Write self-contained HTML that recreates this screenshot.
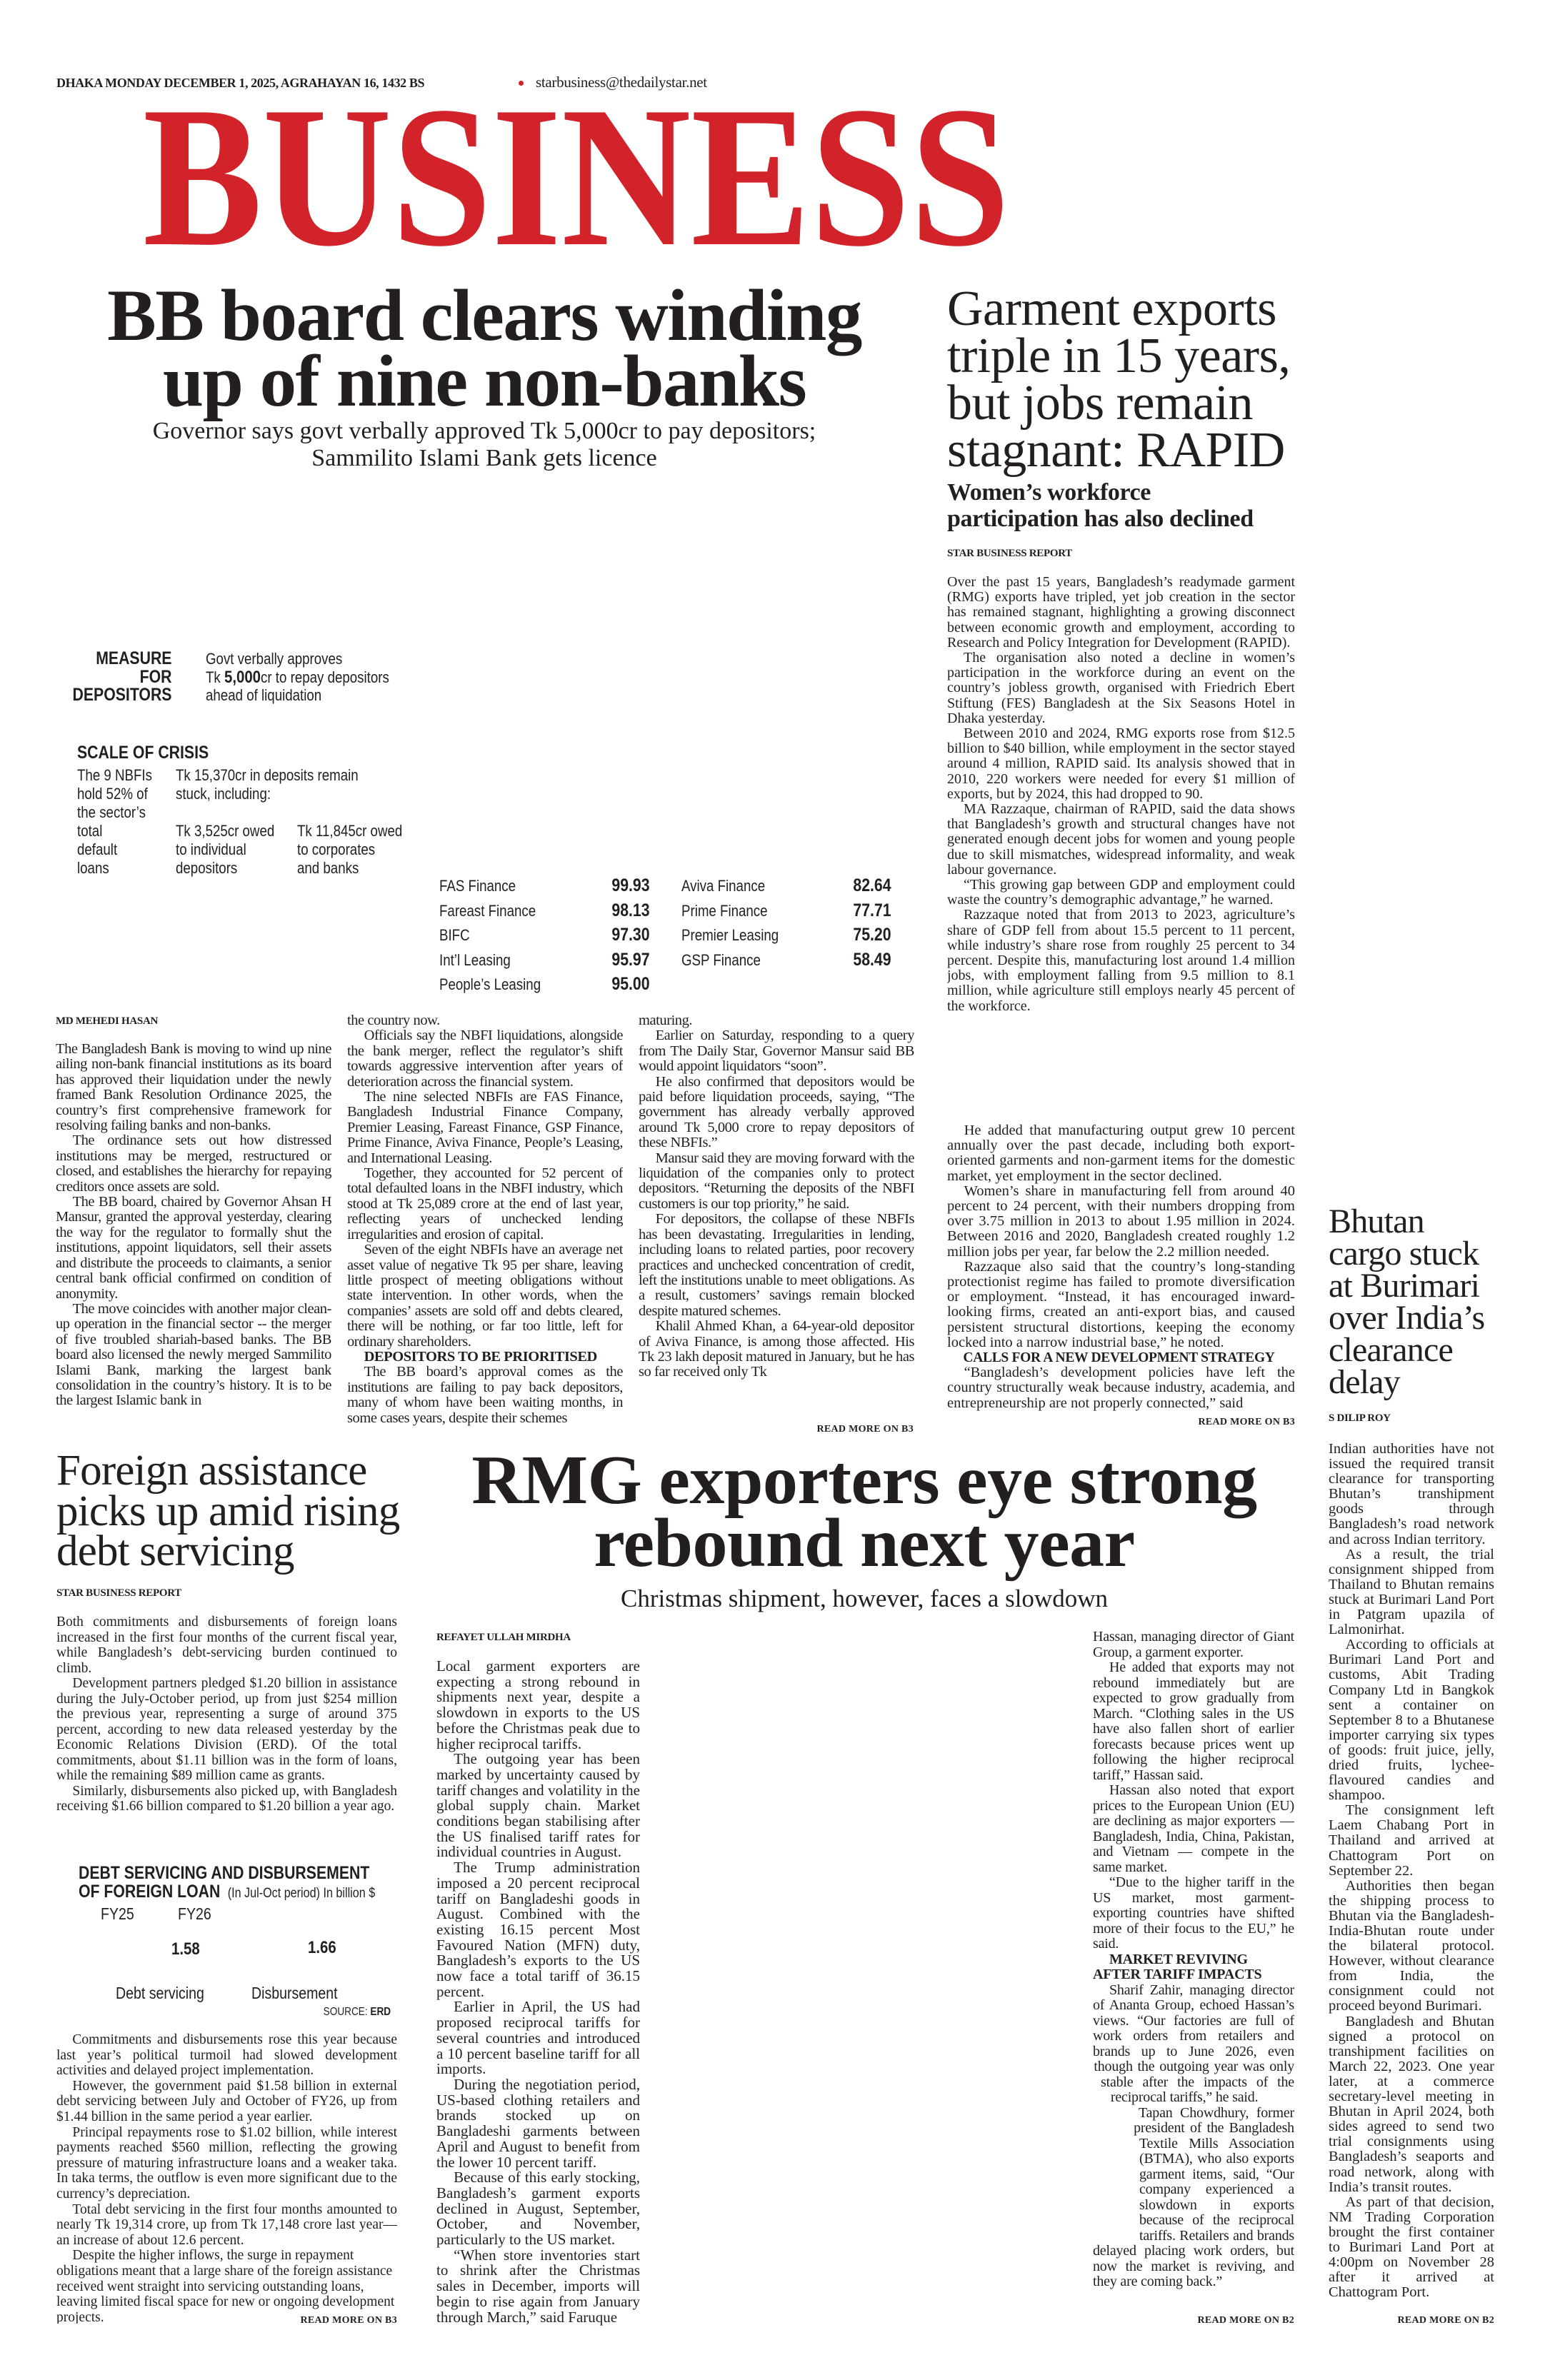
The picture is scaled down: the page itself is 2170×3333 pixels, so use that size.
<!DOCTYPE html>
<html><head><meta charset="utf-8">
<style>
*{margin:0;padding:0;box-sizing:border-box}
html,body{width:2170px;height:3333px;background:#fff;overflow:hidden}
body{position:relative;color:#231f20;font-family:"Liberation Serif",serif}
.a{position:absolute}
.body{text-align:justify;overflow:hidden;hyphens:auto}
.body p{text-indent:1.15em}
.body p.f{text-indent:0}
.sub{font-weight:bold;text-indent:1.15em}
.by{font-weight:bold;font-size:15px;line-height:20px;letter-spacing:-0.3px}
.rm{font-weight:bold;font-size:14px;line-height:18px;text-align:right;letter-spacing:0.3px;white-space:nowrap}
.s{font-family:"Liberation Sans",sans-serif;transform:scaleX(.85);transform-origin:left top;white-space:nowrap}
.sr{font-family:"Liberation Sans",sans-serif;transform:scaleX(.85);transform-origin:right top;white-space:nowrap;text-align:right}
.bbb{font-size:20.5px;line-height:21.4px;width:386px;letter-spacing:-0.45px}
</style></head><body>

<div class="a" style="left:79px;top:104px;font-size:18px;line-height:24px;font-weight:bold;letter-spacing:-0.4px;white-space:nowrap">DHAKA MONDAY DECEMBER 1, 2025, AGRAHAYAN 16, 1432 BS</div>
<div class="a" style="left:726px;top:113px;width:7px;height:7px;border-radius:50%;background:#d2232a"></div>
<div class="a" style="left:750px;top:103px;font-size:21px;line-height:24px;white-space:nowrap;letter-spacing:-0.3px">starbusiness@thedailystar.net</div>

<div class="a" style="left:200px;top:106px;font-size:282px;line-height:282px;font-weight:bold;color:#d2232a;white-space:nowrap;transform:scaleX(.89);transform-origin:left top">BUSINESS</div>

<div class="a" style="left:60px;top:396px;width:1236px;text-align:center;font-size:103px;line-height:92px;font-weight:bold;letter-spacing:-1.5px;white-space:nowrap">BB board clears winding<br>up of nine non-banks</div>
<div class="a" style="left:100px;top:585px;width:1156px;text-align:center;font-size:34px;line-height:38px;white-space:nowrap">Governor says govt verbally approved Tk 5,000cr to pay depositors;<br>Sammilito Islami Bank gets licence</div>

<!-- infographic -->
<div class="a sr" style="right:1930px;top:910px;font-size:25px;line-height:25.5px;font-weight:bold">MEASURE<br>FOR<br>DEPOSITORS</div>
<div class="a s" style="left:288px;top:910px;font-size:22px;line-height:25.5px">Govt verbally approves<br>Tk <b style="font-size:24px">5,000</b>cr to repay depositors<br>ahead of liquidation</div>
<div class="a s" style="left:108px;top:1041px;font-size:25px;line-height:26px;font-weight:bold">SCALE OF CRISIS</div>
<div class="a s" style="left:108px;top:1073px;font-size:22px;line-height:26px">The 9 NBFIs<br>hold 52% of<br>the sector’s<br>total<br>default<br>loans</div>
<div class="a s" style="left:246px;top:1073px;font-size:22px;line-height:26px">Tk 15,370cr in deposits remain<br>stuck, including:</div>
<div class="a s" style="left:246px;top:1151px;font-size:22px;line-height:26px">Tk 3,525cr owed<br>to individual<br>depositors</div>
<div class="a s" style="left:416px;top:1151px;font-size:22px;line-height:26px">Tk 11,845cr owed<br>to corporates<br>and banks</div>
<div class="a s" style="left:615px;top:1224px;font-size:22px;line-height:34.5px">FAS Finance<br>Fareast Finance<br>BIFC<br>Int’l Leasing<br>People’s Leasing</div>
<div class="a sr" style="right:1260px;top:1223px;font-size:25px;line-height:34.5px;font-weight:bold">99.93<br>98.13<br>97.30<br>95.97<br>95.00</div>
<div class="a s" style="left:954px;top:1224px;font-size:22px;line-height:34.5px">Aviva Finance<br>Prime Finance<br>Premier Leasing<br>GSP Finance</div>
<div class="a sr" style="right:922px;top:1223px;font-size:25px;line-height:34.5px;font-weight:bold">82.64<br>77.71<br>75.20<br>58.49</div>

<!-- BB body -->
<div class="a by" style="left:78px;top:1420px">MD MEHEDI HASAN</div>
<div class="a body bbb" style="left:78px;top:1459px;height:550px">
<p class="f">The Bangladesh Bank is moving to wind up nine ailing non-bank financial institutions as its board has approved their liquidation under the newly framed Bank Resolution Ordinance 2025, the country’s first comprehensive framework for resolving failing banks and non-banks.</p>
<p>The ordinance sets out how distressed institutions may be merged, restructured or closed, and establishes the hierarchy for repaying creditors once assets are sold.</p>
<p>The BB board, chaired by Governor Ahsan H Mansur, granted the approval yesterday, clearing the way for the regulator to formally shut the institutions, appoint liquidators, sell their assets and distribute the proceeds to claimants, a senior central bank official confirmed on condition of anonymity.</p>
<p>The move coincides with another major clean-up operation in the financial sector -- the merger of five troubled shariah-based banks. The BB board also licensed the newly merged Sammilito Islami Bank, marking the largest bank consolidation in the country’s history. It is to be the largest Islamic bank in</p>
</div>
<div class="a body bbb" style="left:486px;top:1419px;height:590px">
<p class="f">the country now.</p>
<p>Officials say the NBFI liquidations, alongside the bank merger, reflect the regulator’s shift towards aggressive intervention after years of deterioration across the financial system.</p>
<p>The nine selected NBFIs are FAS Finance, Bangladesh Industrial Finance Company, Premier Leasing, Fareast Finance, GSP Finance, Prime Finance, Aviva Finance, People’s Leasing, and International Leasing.</p>
<p>Together, they accounted for 52 percent of total defaulted loans in the NBFI industry, which stood at Tk 25,089 crore at the end of last year, reflecting years of unchecked lending irregularities and erosion of capital.</p>
<p>Seven of the eight NBFIs have an average net asset value of negative Tk 95 per share, leaving little prospect of meeting obligations without state intervention. In other words, when the companies’ assets are sold off and debts cleared, there will be nothing, or far too little, left for ordinary shareholders.</p>
<p class="sub">DEPOSITORS TO BE PRIORITISED</p>
<p>The BB board’s approval comes as the institutions are failing to pay back depositors, many of whom have been waiting months, in some cases years, despite their schemes</p>
</div>
<div class="a body bbb" style="left:894px;top:1419px;height:570px">
<p class="f">maturing.</p>
<p>Earlier on Saturday, responding to a query from The Daily Star, Governor Mansur said BB would appoint liquidators “soon”.</p>
<p>He also confirmed that depositors would be paid before liquidation proceeds, saying, “The government has already verbally approved around Tk 5,000 crore to repay depositors of these NBFIs.”</p>
<p>Mansur said they are moving forward with the liquidation of the companies only to protect depositors. “Returning the deposits of the NBFI customers is our top priority,” he said.</p>
<p>For depositors, the collapse of these NBFIs has been devastating. Irregularities in lending, including loans to related parties, poor recovery practices and unchecked concentration of credit, left the institutions unable to meet obligations. As a result, customers’ savings remain blocked despite matured schemes.</p>
<p>Khalil Ahmed Khan, a 64-year-old depositor of Aviva Finance, is among those affected. His Tk 23 lakh deposit matured in January, but he has so far received only Tk</p>
</div>
<div class="a rm" style="left:0;width:1279px;top:1993px">READ MORE ON B3</div>

<!-- Garment story -->
<div class="a" style="left:1326px;top:400px;font-size:70px;line-height:66px;white-space:nowrap;letter-spacing:-0.5px">Garment exports<br>triple in 15 years,<br>but jobs remain<br>stagnant: RAPID</div>
<div class="a" style="left:1326px;top:671px;font-size:34px;line-height:37px;font-weight:bold;white-space:nowrap;letter-spacing:-0.4px">Women’s workforce<br>participation has also declined</div>
<div class="a by" style="left:1326px;top:765px">STAR BUSINESS REPORT</div>
<div class="a body" style="left:1326px;top:805px;width:487px;height:640px;font-size:20px;line-height:21.2px">
<p class="f">Over the past 15 years, Bangladesh’s readymade garment (RMG) exports have tripled, yet job creation in the sector has remained stagnant, highlighting a growing disconnect between economic growth and employment, according to Research and Policy Integration for Development (RAPID).</p>
<p>The organisation also noted a decline in women’s participation in the workforce during an event on the country’s jobless growth, organised with Friedrich Ebert Stiftung (FES) Bangladesh at the Six Seasons Hotel in Dhaka yesterday.</p>
<p>Between 2010 and 2024, RMG exports rose from $12.5 billion to $40 billion, while employment in the sector stayed around 4 million, RAPID said. Its analysis showed that in 2010, 220 workers were needed for every $1 million of exports, but by 2024, this had dropped to 90.</p>
<p>MA Razzaque, chairman of RAPID, said the data shows that Bangladesh’s growth and structural changes have not generated enough decent jobs for women and young people due to skill mismatches, widespread informality, and weak labour governance.</p>
<p>“This growing gap between GDP and employment could waste the country’s demographic advantage,” he warned.</p>
<p>Razzaque noted that from 2013 to 2023, agriculture’s share of GDP fell from about 15.5 percent to 11 percent, while industry’s share rose from roughly 25 percent to 34 percent. Despite this, manufacturing lost around 1.4 million jobs, with employment falling from 9.5 million to 8.1 million, while agriculture still employs nearly 45 percent of the workforce.</p>
</div>
<div class="a body" style="left:1326px;top:1573px;width:487px;height:405px;font-size:20.5px;line-height:21.2px">
<p>He added that manufacturing output grew 10 percent annually over the past decade, including both export-oriented garments and non-garment items for the domestic market, yet employment in the sector declined.</p>
<p>Women’s share in manufacturing fell from around 40 percent to 24 percent, with their numbers dropping from over 3.75 million in 2013 to about 1.95 million in 2024. Between 2016 and 2020, Bangladesh created roughly 1.2 million jobs per year, far below the 2.2 million needed.</p>
<p>Razzaque also said that the country’s long-standing protectionist regime has failed to promote diversification or employment. “Instead, it has encouraged inward-looking firms, created an anti-export bias, and caused persistent structural distortions, keeping the economy locked into a narrow industrial base,” he noted.</p>
<p class="sub" style="text-align:left;white-space:nowrap;font-size:19.5px;letter-spacing:-0.3px">CALLS FOR A NEW DEVELOPMENT STRATEGY</p>
<p>“Bangladesh’s development policies have left the country structurally weak because industry, academia, and entrepreneurship are not properly connected,” said</p>
</div>
<div class="a rm" style="left:0;width:1813px;top:1983px">READ MORE ON B3</div>

<!-- Bhutan -->
<div class="a" style="left:1860px;top:1688px;font-size:48px;line-height:45px;white-space:nowrap;letter-spacing:-0.8px">Bhutan<br>cargo stuck<br>at Burimari<br>over India’s<br>clearance<br>delay</div>
<div class="a by" style="left:1860px;top:1976px">S DILIP ROY</div>
<div class="a body" style="left:1860px;top:2019px;width:232px;height:1222px;font-size:20.5px;line-height:21.1px">
<p class="f">Indian authorities have not issued the required transit clearance for transporting Bhutan’s transhipment goods through Bangladesh’s road network and across Indian territory.</p>
<p>As a result, the trial consignment shipped from Thailand to Bhutan remains stuck at Burimari Land Port in Patgram upazila of Lalmonirhat.</p>
<p>According to officials at Burimari Land Port and customs, Abit Trading Company Ltd in Bangkok sent a container on September 8 to a Bhutanese importer carrying six types of goods: fruit juice, jelly, dried fruits, lychee-flavoured candies and shampoo.</p>
<p>The consignment left Laem Chabang Port in Thailand and arrived at Chattogram Port on September 22.</p>
<p>Authorities then began the shipping process to Bhutan via the Bangladesh-India-Bhutan route under the bilateral protocol. However, without clearance from India, the consignment could not proceed beyond Burimari.</p>
<p>Bangladesh and Bhutan signed a protocol on transhipment facilities on March 22, 2023. One year later, at a commerce secretary-level meeting in Bhutan in April 2024, both sides agreed to send two trial consignments using Bangladesh’s seaports and road network, along with India’s transit routes.</p>
<p>As part of that decision, NM Trading Corporation brought the first container to Burimari Land Port at 4:00pm on November 28 after it arrived at Chattogram Port.</p>
</div>
<div class="a rm" style="left:0;width:2092px;top:3241px">READ MORE ON B2</div>

<!-- Foreign assistance -->
<div class="a" style="left:79px;top:2032px;font-size:61px;line-height:56.5px;white-space:nowrap;letter-spacing:-0.8px">Foreign assistance<br>picks up amid rising<br>debt servicing</div>
<div class="a by" style="left:79px;top:2221px">STAR BUSINESS REPORT</div>
<div class="a body" style="left:79px;top:2261px;width:477px;height:304px;font-size:19.5px;line-height:21.5px">
<p class="f">Both commitments and disbursements of foreign loans increased in the first four months of the current fiscal year, while Bangladesh’s debt-servicing burden continued to climb.</p>
<p>Development partners pledged $1.20 billion in assistance during the July-October period, up from just $254 million the previous year, representing a surge of around 375 percent, according to new data released yesterday by the Economic Relations Division (ERD). Of the total commitments, about $1.11 billion was in the form of loans, while the remaining $89 million came as grants.</p>
<p>Similarly, disbursements also picked up, with Bangladesh receiving $1.66 billion compared to $1.20 billion a year ago.</p>
</div>
<div class="a s" style="left:110px;top:2610px;font-size:25px;line-height:26px;font-weight:bold">DEBT SERVICING AND DISBURSEMENT<br>OF FOREIGN LOAN <span style="font-weight:normal;font-size:19px">&nbsp;(In Jul-Oct period) In billion $</span></div>
<div class="a s" style="left:141px;top:2667px;font-size:23px;line-height:26px">FY25</div>
<div class="a s" style="left:249px;top:2667px;font-size:23px;line-height:26px">FY26</div>
<div class="a s" style="left:240px;top:2716px;font-size:24px;line-height:28px;font-weight:bold">1.58</div>
<div class="a s" style="left:431px;top:2714px;font-size:24px;line-height:28px;font-weight:bold">1.66</div>
<div class="a s" style="left:162px;top:2777px;font-size:23px;line-height:28px">Debt servicing</div>
<div class="a s" style="left:352px;top:2777px;font-size:23px;line-height:28px">Disbursement</div>
<div class="a sr" style="right:1623px;top:2808px;font-size:16px;line-height:20px">SOURCE: <b>ERD</b></div>
<div class="a body" style="left:79px;top:2846px;width:477px;height:408px;font-size:19.5px;line-height:21.6px">
<p>Commitments and disbursements rose this year because last year’s political turmoil had slowed development activities and delayed project implementation.</p>
<p>However, the government paid $1.58 billion in external debt servicing between July and October of FY26, up from $1.44 billion in the same period a year earlier.</p>
<p>Principal repayments rose to $1.02 billion, while interest payments reached $560 million, reflecting the growing pressure of maturing infrastructure loans and a weaker taka. In taka terms, the outflow is even more significant due to the currency’s depreciation.</p>
<p>Total debt servicing in the first four months amounted to nearly Tk 19,314 crore, up from Tk 17,148 crore last year—an increase of about 12.6 percent.</p>
<p style="text-align:left">Despite the higher inflows, the surge in repayment obligations meant that a large share of the foreign assistance received went straight into servicing outstanding loans, leaving limited fiscal space for new or ongoing development projects.</p>
</div>
<div class="a rm" style="left:396px;width:160px;top:3241px;background:#fff;padding-left:6px">READ MORE ON B3</div>

<!-- RMG -->
<div class="a" style="left:560px;top:2029px;width:1300px;text-align:center;font-size:98px;line-height:88px;font-weight:bold;white-space:nowrap;letter-spacing:-0.5px">RMG exporters eye strong<br>rebound next year</div>
<div class="a" style="left:560px;top:2219px;width:1300px;text-align:center;font-size:35px;line-height:40px;white-space:nowrap">Christmas shipment, however, faces a slowdown</div>
<div class="a by" style="left:611px;top:2283px">REFAYET ULLAH MIRDHA</div>
<div class="a body" style="left:611px;top:2323px;width:285px;height:935px;font-size:21px;line-height:21.7px">
<p class="f">Local garment exporters are expecting a strong rebound in shipments next year, despite a slowdown in exports to the US before the Christmas peak due to higher reciprocal tariffs.</p>
<p>The outgoing year has been marked by uncertainty caused by tariff changes and volatility in the global supply chain. Market conditions began stabilising after the US finalised tariff rates for individual countries in August.</p>
<p>The Trump administration imposed a 20 percent reciprocal tariff on Bangladeshi goods in August. Combined with the existing 16.15 percent Most Favoured Nation (MFN) duty, Bangladesh’s exports to the US now face a total tariff of 36.15 percent.</p>
<p>Earlier in April, the US had proposed reciprocal tariffs for several countries and introduced a 10 percent baseline tariff for all imports.</p>
<p>During the negotiation period, US-based clothing retailers and brands stocked up on Bangladeshi garments between April and August to benefit from the lower 10 percent tariff.</p>
<p>Because of this early stocking, Bangladesh’s garment exports declined in August, September, October, and November, particularly to the US market.</p>
<p>“When store inventories start to shrink after the Christmas sales in December, imports will begin to rise again from January through March,” said Faruque</p>
</div>
<div class="a body" style="left:1530px;top:2282px;width:282px;height:950px;font-size:20px;line-height:21.5px;letter-spacing:-0.2px">
<div style="float:left;width:70px;height:900px;shape-outside:polygon(0 0,0 620px,8px 640px,20px 660px,35px 680px,50px 700px,65px 720px,65px 850px,0 860px,0 900px)"></div>
<p class="f">Hassan, managing director of Giant Group, a garment exporter.</p>
<p>He added that exports may not rebound immediately but are expected to grow gradually from March. “Clothing sales in the US have also fallen short of earlier forecasts because prices went up following the higher reciprocal tariff,” Hassan said.</p>
<p>Hassan also noted that export prices to the European Union (EU) are declining as major exporters — Bangladesh, India, China, Pakistan, and Vietnam — compete in the same market.</p>
<p>“Due to the higher tariff in the US market, most garment-exporting countries have shifted more of their focus to the EU,” he said.</p>
<p class="sub" style="text-align:left">MARKET REVIVING AFTER TARIFF IMPACTS</p>
<p>Sharif Zahir, managing director of Ananta Group, echoed Hassan’s views. “Our factories are full of work orders from retailers and brands up to June 2026, even though the outgoing year was only stable after the impacts of the reciprocal tariffs,” he said.</p>
<p>Tapan Chowdhury, former president of the Bangladesh Textile Mills Association (BTMA), who also exports garment items, said, “Our company experienced a slowdown in exports because of the reciprocal tariffs. Retailers and brands delayed placing work orders, but now the market is reviving, and they are coming back.”</p>
</div>
<div class="a rm" style="left:0;width:1812px;top:3241px">READ MORE ON B2</div>

</body></html>
